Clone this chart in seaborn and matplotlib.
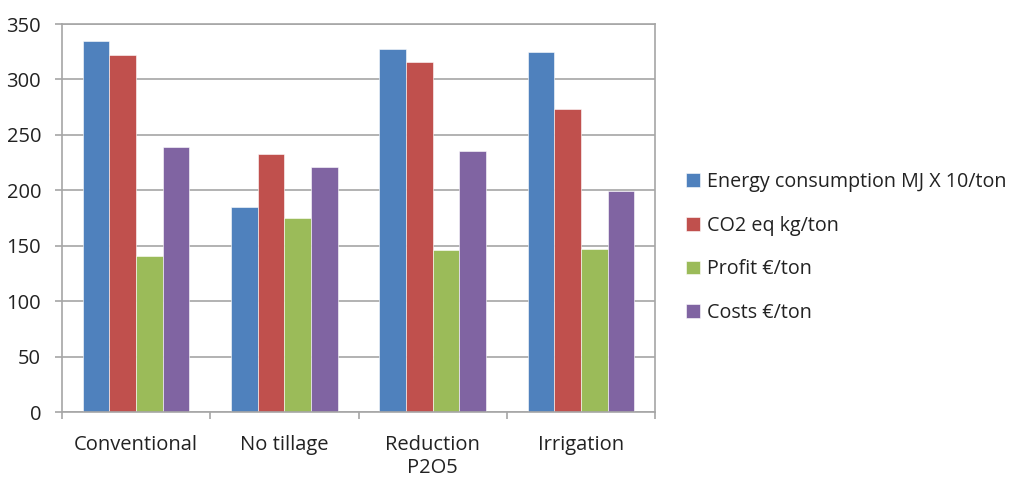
import numpy as np
import pandas as pd
import seaborn as sns
import matplotlib.pyplot as plt
from matplotlib.ticker import FixedLocator

categories = ["Conventional", "No tillage", "Reduction\nP2O5", "Irrigation"]
series = ["Energy consumption MJ X 10/ton", "CO2 eq kg/ton", "Profit €/ton", "Costs €/ton"]
energy = [335, 185, 327, 325]
co2 = [322, 233, 316, 273]
profit = [141, 175, 146, 147]
costs = [239, 221, 235, 199]
colors = ["#4F81BD", "#C0504D", "#9BBB59", "#8064A2"]

rows = []
for name, vals in zip(series, [energy, co2, profit, costs]):
    for cat, v in zip(categories, vals):
        rows.append({"category": cat, "series": name, "value": v})
df = pd.DataFrame(rows)

sns.set_style("white")
plt.rcParams["font.family"] = ["Open Sans", "DejaVu Sans"]

fig = plt.figure(figsize=(10.23, 4.8), dpi=100)
ax = fig.add_axes([62 / 1023, 1 - 412 / 480, (655 - 62) / 1023, (412 - 24) / 480])

sns.barplot(data=df, x="category", y="value", hue="series", palette=colors,
            saturation=1, width=0.72, gap=0, ax=ax, edgecolor="white", linewidth=0.4)

ax.set_ylim(0, 350)
ax.set_xlim(-0.5, 3.5)
ax.set_yticks(np.arange(0, 351, 50))
ax.yaxis.grid(True, color="#A6A6A6", linewidth=1.2)
ax.set_axisbelow(True)
ax.set_xlabel("")
ax.set_ylabel("")
for s in ["left", "right", "top", "bottom"]:
    ax.spines[s].set_visible(True)
    ax.spines[s].set_color("#A6A6A6")
    ax.spines[s].set_linewidth(1.2)
ax.tick_params(axis="both", labelsize=14.5, colors="#222222")
ax.tick_params(axis="y", left=True, length=5, width=1.2, color="#A6A6A6", pad=10)
ax.tick_params(axis="x", bottom=False, pad=13)
ax.xaxis.set_minor_locator(FixedLocator([-0.5, 0.5, 1.5, 2.5, 3.5]))
ax.tick_params(axis="x", which="minor", bottom=True, length=5, width=1.2, color="#A6A6A6")

handles, labels = ax.get_legend_handles_labels()
ax.legend(handles, labels, loc="center left", bbox_to_anchor=(1.022, 0.424), frameon=False,
          fontsize=14.2, handlelength=0.7, handleheight=0.7, handletextpad=0.4,
          labelspacing=1.2, labelcolor="#222222")

fig.savefig("out.png", dpi=100)
